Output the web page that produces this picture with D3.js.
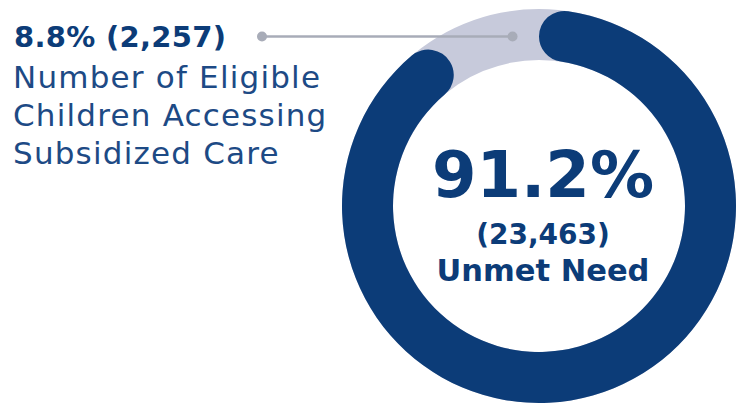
<!DOCTYPE html>
<html>
<head>
<meta charset="utf-8">
<script src="https://cdn.jsdelivr.net/npm/d3@7"></script>
<style>
  body { margin: 0; background: #fff; }
  text { font-family: 'DejaVu Sans', sans-serif; }
</style>
</head>
<body>
<div class="graph"><svg></svg></div>
<script>
// chart values
const segments = ['Unmet Need', 'Eligible Children Accessing Subsidized Care']
const shares = [91.2, 8.8]
const counts = [23463, 2257]
const labelLines = ['Number of Eligible', 'Children Accessing', 'Subsidized Care']

const width = 736
const height = 405
const center = { x: 539, y: 206 }
const outerR = 197
const innerR = 146
const darkBlue = '#0c3c78'
const lightGray = '#c7cadb'
const dotGray = '#a8acb8'

/**
 * Sets the size of the SVG canvas.
 *
 * @param {number} w The desired width
 * @param {number} h The desired height
 * @returns {*} The d3 Selection for the svg
 */
function setCanvasSize (w, h) {
  return d3.select('.graph').select('svg')
    .attr('width', w)
    .attr('height', h)
}

const svg = setCanvasSize(width, height)

const pie = d3.pie().sort(null).value(d => d)
const slices = pie(shares)

const ring = svg.append('g')
  .attr('transform', 'translate(' + center.x + ',' + center.y + ')')

// light track behind everything
ring.append('path')
  .attr('d', d3.arc().innerRadius(innerR).outerRadius(outerR)({ startAngle: 0, endAngle: 2 * Math.PI }))
  .attr('fill', lightGray)

// unmet need, rounded ends
ring.append('path')
  .attr('d', d3.arc()
    .innerRadius(innerR)
    .outerRadius(outerR)
    .cornerRadius((outerR - innerR) / 2)(slices[0]))
  .attr('fill', darkBlue)

// leader dot sits on the small slice
const small = slices[1]
const midR = (innerR + outerR) / 2
const a = small.startAngle + 0.72 * (small.endAngle - small.startAngle)
const dot = { x: center.x + midR * Math.sin(a), y: center.y - midR * Math.cos(a) }

svg.append('line')
  .attr('x1', 262)
  .attr('y1', dot.y)
  .attr('x2', dot.x)
  .attr('y2', dot.y)
  .attr('stroke', dotGray)
  .attr('stroke-width', 2.5)

svg.selectAll('circle.dot')
  .data([262, dot.x])
  .enter()
  .append('circle')
  .attr('class', 'dot')
  .attr('cx', d => d)
  .attr('cy', dot.y)
  .attr('r', 5)
  .attr('fill', dotGray)

// left label
const fmt = d3.format(',')
svg.append('text')
  .attr('x', 14)
  .attr('y', 47)
  .attr('font-size', 29)
  .attr('font-weight', 'bold')
  .attr('letter-spacing', 0.3)
  .attr('fill', darkBlue)
  .text(shares[1] + '% (' + fmt(counts[1]) + ')')

svg.selectAll('text.label')
  .data(labelLines)
  .enter()
  .append('text')
  .attr('class', 'label')
  .attr('x', 13)
  .attr('y', (d, i) => 88 + i * 38)
  .attr('font-size', 31)
  .attr('letter-spacing', 1.2)
  .attr('fill', '#1d4a85')
  .text(d => d)

// centre label
const cx = center.x + 4
svg.append('text')
  .attr('x', cx)
  .attr('y', 197)
  .attr('text-anchor', 'middle')
  .attr('font-size', 64)
  .attr('font-weight', 'bold')
  .attr('fill', darkBlue)
  .text(shares[0] + '%')

svg.append('text')
  .attr('x', cx)
  .attr('y', 244)
  .attr('text-anchor', 'middle')
  .attr('font-size', 28)
  .attr('font-weight', 'bold')
  .attr('fill', darkBlue)
  .text('(' + fmt(counts[0]) + ')')

svg.append('text')
  .attr('x', cx)
  .attr('y', 281)
  .attr('text-anchor', 'middle')
  .attr('font-size', 30.5)
  .attr('font-weight', 'bold')
  .attr('fill', darkBlue)
  .text(segments[0])
</script>
</body>
</html>
